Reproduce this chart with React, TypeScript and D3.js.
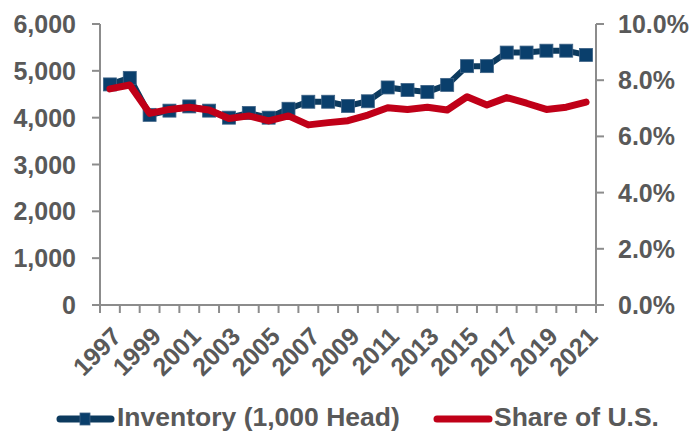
import React from "react";
import * as d3 from "d3";

const years = [
  1997, 1998, 1999, 2000, 2001, 2002, 2003, 2004, 2005, 2006, 2007, 2008, 2009,
  2010, 2011, 2012, 2013, 2014, 2015, 2016, 2017, 2018, 2019, 2020, 2021,
];
const inventory = [
  4710, 4850, 4060, 4150, 4240, 4150, 4000, 4100, 4000, 4190, 4340, 4340, 4250,
  4350, 4645, 4590, 4550, 4700, 5100, 5100, 5390, 5390, 5430, 5430, 5340,
];
const share = [
  7.69, 7.83, 6.82, 6.96, 7.04, 6.94, 6.64, 6.73, 6.55, 6.73, 6.41, 6.49, 6.56,
  6.76, 7.02, 6.96, 7.04, 6.94, 7.41, 7.12, 7.38, 7.18, 6.96, 7.04, 7.22,
];
const leftTicks = [0, 1000, 2000, 3000, 4000, 5000, 6000];
const rightTicks = [0, 2, 4, 6, 8, 10];
const labelYears = years.filter((y) => (y - 1997) % 2 === 0);
const legendLabels = ["Inventory (1,000 Head)", "Share of U.S."];

const W = 694;
const H = 432;
const NAVY = "#0c3a5e";
const MARKER = "#0a3f6c";
const RED = "#c00018";
const AXIS = "#8c8c8c";
const TEXT = "#595959";
const FONT = "'Liberation Sans', Arial, sans-serif";

export default function App() {
  const x = d3.scaleBand<number>().domain(years).range([100, 596]);
  const yL = d3.scaleLinear().domain([0, 6000]).range([305, 24]);
  const yR = d3.scaleLinear().domain([0, 10]).range([305, 24]);
  const cx = (d: number) => (x(d) as number) + x.bandwidth() / 2;

  const invLine = d3
    .line<number>()
    .x((_, i) => cx(years[i]))
    .y((d) => yL(d));
  const shareLine = d3
    .line<number>()
    .x((_, i) => cx(years[i]))
    .y((d) => yR(d));

  const boundaries = years.map((y) => x(y) as number).concat([596]);
  const fmt = d3.format(",");
  const ms = 13;
  const legY = 419;

  return (
    <svg
      width={W}
      height={H}
      style={{ position: "absolute", left: 0, top: 0, background: "#fff" }}
      fontFamily={FONT}
      fontWeight="bold"
    >
      {/* axes */}
      <g stroke={AXIS} strokeWidth={2} fill="none">
        <line x1={100} x2={100} y1={yL(6000)} y2={yL(0)} />
        <line x1={596} x2={596} y1={yR(10)} y2={yR(0)} />
        <line x1={92} x2={604} y1={yL(0)} y2={yL(0)} />
        {leftTicks.map((t) => (
          <line key={"lt" + t} x1={92} x2={100} y1={yL(t)} y2={yL(t)} />
        ))}
        {rightTicks.map((t) => (
          <line key={"rt" + t} x1={596} x2={604} y1={yR(t)} y2={yR(t)} />
        ))}
        {boundaries.map((b, i) => (
          <line key={"xt" + i} x1={b} x2={b} y1={305} y2={313} />
        ))}
      </g>
      {/* left labels */}
      {leftTicks.map((t) => (
        <text
          key={"ll" + t}
          x={76}
          y={yL(t)}
          dy="0.36em"
          textAnchor="end"
          fontSize={25}
          fill={TEXT}
        >
          {fmt(t)}
        </text>
      ))}
      {rightTicks.map((t) => (
        <text
          key={"rl" + t}
          x={618}
          y={yR(t)}
          dy="0.36em"
          textAnchor="start"
          fontSize={25}
          fill={TEXT}
        >
          {t.toFixed(1) + "%"}
        </text>
      ))}
      {labelYears.map((y) => (
        <text
          key={"xl" + y}
          transform={`translate(${cx(y) + 13},${338}) rotate(-45)`}
          textAnchor="end"
          fontSize={25}
          fill={TEXT}
        >
          {y}
        </text>
      ))}
      {/* inventory */}
      <path d={invLine(inventory) || ""} fill="none" stroke={NAVY} strokeWidth={6} />
      {inventory.map((v, i) => (
        <rect
          key={"m" + i}
          x={cx(years[i]) - ms / 2}
          y={yL(v) - ms / 2}
          width={ms}
          height={ms}
          fill={MARKER}
          stroke="#3d6285"
          strokeWidth={0.8}
        />
      ))}
      {/* share */}
      <path
        d={shareLine(share) || ""}
        fill="none"
        stroke={RED}
        strokeWidth={7}
        strokeLinejoin="round"
        strokeLinecap="round"
      />
      {/* legend */}
      <line x1={60} x2={111} y1={legY} y2={legY} stroke={NAVY} strokeWidth={7} strokeLinecap="round" />
      <rect x={80} y={legY - 6} width={10} height={12} fill={MARKER} stroke="#3d6285" strokeWidth={0.8} />
      <text x={117} y={legY + 7} fontSize={26.5} fill={TEXT}>
        {legendLabels[0]}
      </text>
      <line x1={437} x2={489} y1={legY} y2={legY} stroke={RED} strokeWidth={7} strokeLinecap="round" />
      <text x={494} y={legY + 7} fontSize={26.5} fill={TEXT}>
        {legendLabels[1]}
      </text>
    </svg>
  );
}
